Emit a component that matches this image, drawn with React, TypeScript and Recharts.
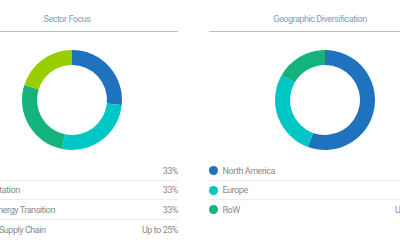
import React from 'react';
import { PieChart, Pie, Cell } from 'recharts';

// Sector focus (left panel)
const sectorNames = ['Digital', 'Transportation', 'Secure Energy Transition', 'Resilient Supply Chain'];
const sectorValues = [33, 33, 33, 25];
const sectorLabels = ['33%', '33%', '33%', 'Up to 25%'];
const sectorColors = ['#1f73be', '#00c6c6', '#14b27d', '#9acd00'];

// Geographic diversification (right panel)
const geoNames = ['North America', 'Europe', 'RoW'];
const geoValues = [50, 25, 15];
const geoLabels = ['40-60%', '20-30%', 'Up to 15%'];
const geoColors = ['#1f73be', '#00c6c6', '#14b27d'];

const FONT = 'Roboto, "Noto Sans", sans-serif';
const PANEL_W = 222;

interface PanelProps {
  left: number;
  labelLeft: number;
  title: string;
  names: string[];
  values: number[];
  labels: string[];
  colors: string[];
}

function Panel({ left, labelLeft, title, names, values, labels, colors }: PanelProps) {
  const data = names.map((name, i) => ({ name, value: values[i] }));

  return (
    <div style={{ position: 'absolute', left, top: 0, width: PANEL_W, height: 250 }}>
      <div
        style={{
          position: 'absolute',
          top: 12,
          width: '100%',
          textAlign: 'center',
          fontSize: 9,
          letterSpacing: -0.45,
          lineHeight: '14px',
          color: '#7d9dbf',
        }}
      >
        {title}
      </div>
      <div style={{ position: 'absolute', top: 31, left: 0, width: '100%', height: 1, background: '#a8c5e0' }} />

      <div style={{ position: 'absolute', top: 40 }}>
        <PieChart width={PANEL_W} height={112}>
          <Pie
            data={data}
            dataKey="value"
            cx={PANEL_W / 2}
            cy={55}
            innerRadius={35}
            outerRadius={50}
            startAngle={90}
            endAngle={-270}
            stroke="none"
            isAnimationActive={false}
          >
            {data.map((d, i) => (
              <Cell key={d.name} fill={colors[i]} />
            ))}
          </Pie>
        </PieChart>
      </div>

      {names.map((name, i) => (
        <div
          key={name}
          style={{
            position: 'absolute',
            top: 160 + i * 19.7,
            left: 0,
            width: '100%',
            height: 19.7,
            borderTop: i > 0 ? '1px solid #eceff2' : 'none',
            boxSizing: 'border-box',
            fontSize: 9,
            letterSpacing: -0.45,
            lineHeight: '12px',
            color: '#8a8a8a',
          }}
        >
          <span
            style={{
              position: 'absolute',
              left: 0,
              top: i > 0 ? 5 : 6,
              width: 9,
              height: 9,
              borderRadius: '50%',
              background: colors[i],
            }}
          />
          <span style={{ position: 'absolute', left: labelLeft, top: i > 0 ? 3.5 : 4.5, whiteSpace: 'nowrap' }}>
            {name}
          </span>
          <span style={{ position: 'absolute', right: 0, top: i > 0 ? 3.5 : 4.5, whiteSpace: 'nowrap' }}>{labels[i]}</span>
        </div>
      ))}
    </div>
  );
}

export default function App() {
  return (
    <div
      style={{
        position: 'absolute',
        left: 0,
        top: 0,
        width: 400,
        height: 250,
        overflow: 'hidden',
        background: '#ffffff',
        fontFamily: FONT,
      }}
    >
      <Panel
        left={-44}
        labelLeft={11}
        title="Sector Focus"
        names={sectorNames}
        values={sectorValues}
        labels={sectorLabels}
        colors={sectorColors}
      />
      <Panel
        left={209}
        labelLeft={13.5}
        title="Geographic Diversification"
        names={geoNames}
        values={geoValues}
        labels={geoLabels}
        colors={geoColors}
      />
    </div>
  );
}
